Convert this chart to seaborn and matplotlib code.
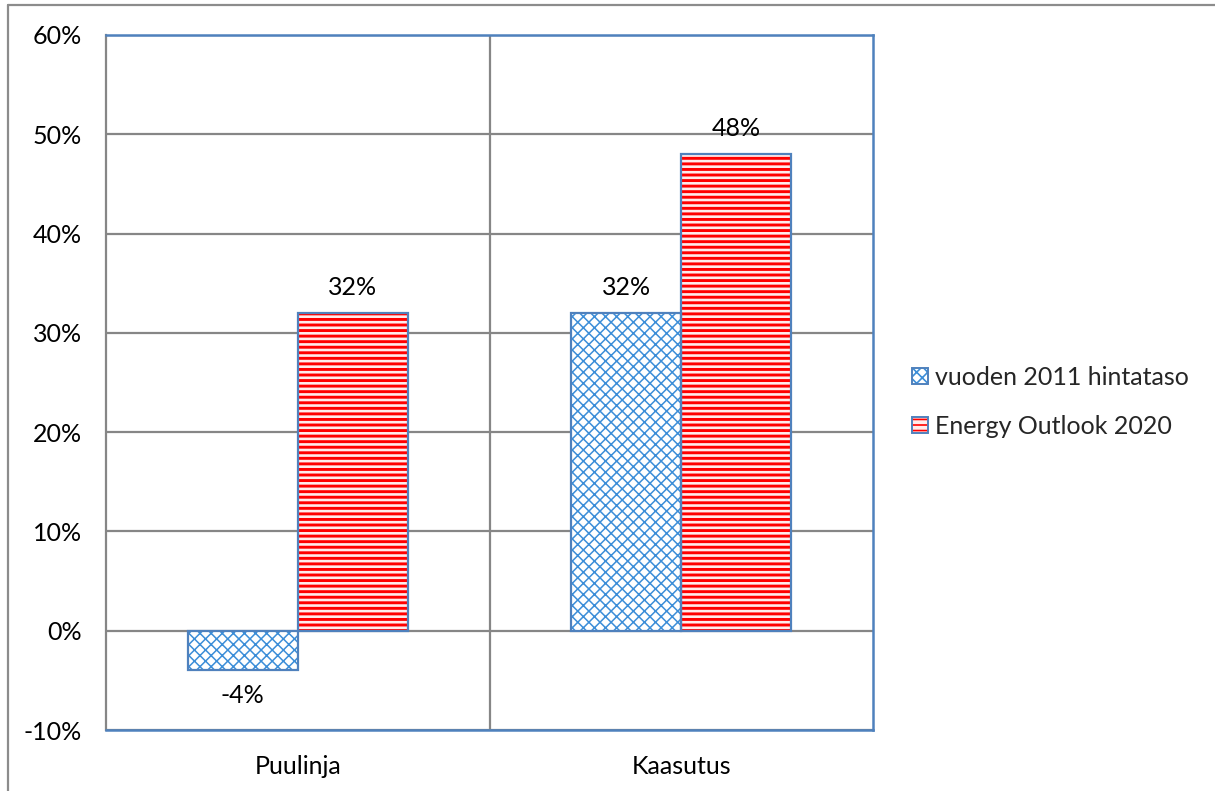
import matplotlib
matplotlib.use("Agg")
import matplotlib.pyplot as plt
from matplotlib.patches import Patch, Rectangle
from matplotlib.lines import Line2D
from matplotlib.legend_handler import HandlerTuple
import pandas as pd
import seaborn as sns

# Data
categories = ["Puulinja", "Kaasutus"]
series_names = ["vuoden 2011 hintataso", "Energy Outlook 2020"]
price_2011 = [-4, 32]
outlook_2020 = [32, 48]
value_labels_2011 = ["-4%", "32%"]
value_labels_2020 = ["32%", "48%"]
ytick_values = [-10, 0, 10, 20, 30, 40, 50, 60]
ytick_labels = ["-10%", "0%", "10%", "20%", "30%", "40%", "50%", "60%"]

df = pd.DataFrame({
    "kategoria": categories * 2,
    "sarja": [series_names[0]] * 2 + [series_names[1]] * 2,
    "arvo": price_2011 + outlook_2020,
})

sns.set_theme(style="white")
plt.rcParams["font.family"] = ["Lato", "DejaVu Sans"]
plt.rcParams["hatch.linewidth"] = 1.2

FS = 18
BLUE_EDGE = "#4F81BD"
BLUE_HATCH = "#3C8ED8"
RED = "#FF0000"
GRID = "#868686"

fig = plt.figure(figsize=(12.15, 7.91), dpi=100)
ax = fig.add_axes([106 / 1215, 1 - 730 / 791, (873 - 106) / 1215, (730 - 35) / 791])

sns.barplot(data=df, x="kategoria", y="arvo", hue="sarja", order=categories,
            hue_order=series_names, width=0.574, ax=ax, legend=False,
            saturation=1, errorbar=None)

styles = {
    series_names[0]: dict(face="white", hatch="xxx", hcolor=BLUE_HATCH, hlw=1.1),
    series_names[1]: dict(face="#FFECEC", hatch="---", hcolor=RED, hlw=2.1),
}


def style_patch(p, st):
    p.set_facecolor(st["face"])
    p.set_hatch(st["hatch"])
    p.set_edgecolor(st["hcolor"])
    p.set_linewidth(0)
    if hasattr(p, "set_hatch_linewidth"):
        p.set_hatch_linewidth(st["hlw"])


for container, name in zip(ax.containers, series_names):
    st = styles[name]
    for bar in container:
        style_patch(bar, st)
        outline = Rectangle(bar.get_xy(), bar.get_width(), bar.get_height(),
                            fill=False, edgecolor=BLUE_EDGE, linewidth=1.6,
                            zorder=bar.get_zorder() + 0.1)
        ax.add_patch(outline)

# Value labels
for container, labels in zip(ax.containers, [value_labels_2011, value_labels_2020]):
    ax.bar_label(container, labels=labels, padding=10, fontsize=FS, color="black")

ax.set_xlim(-0.5, 1.5)
ax.set_ylim(-10, 60)
ax.set_yticks(ytick_values)
ax.set_yticklabels(ytick_labels, fontsize=FS)
ax.set_xticks(range(len(categories)))
ax.set_xticklabels(categories, fontsize=FS)
ax.set_xlabel("")
ax.set_ylabel("")
ax.tick_params(axis="y", direction="out", length=6.5, width=1.5, color=GRID, pad=11, labelcolor="black")
ax.tick_params(axis="x", length=0, pad=18, labelcolor="black")

# Gridlines and category separator
for v in ytick_values:
    ax.axhline(v, color=GRID, linewidth=1.6, zorder=0.5)
ax.axvline(0.5, color=GRID, linewidth=1.6, zorder=0.5)

for side in ["top", "right", "bottom"]:
    ax.spines[side].set_color(BLUE_EDGE)
    ax.spines[side].set_linewidth(1.8)
ax.spines["left"].set_color(GRID)
ax.spines["left"].set_linewidth(1.6)

# Legend: hatched swatch with a blue outline on top
handles = []
for n in series_names:
    st = styles[n]
    swatch = Patch(label=n)
    style_patch(swatch, st)
    frame = Patch(fill=False, edgecolor=BLUE_EDGE, linewidth=1.4)
    handles.append((swatch, frame))
fig.legend(handles=handles, labels=series_names, loc="center left",
           bbox_to_anchor=(912 / 1215, 1 - 402 / 791),
           handler_map={tuple: HandlerTuple(ndivide=1, pad=0)},
           frameon=False, fontsize=FS, handlelength=0.62, handleheight=0.62,
           handletextpad=0.3, labelspacing=1.05, borderaxespad=0, borderpad=0)

# Chart border (top and left edges)
fig.add_artist(Line2D([8 / 1215, 1.05], [1 - 5 / 791, 1 - 5 / 791], transform=fig.transFigure,
                      color="#8C8C8C", linewidth=1.6))
fig.add_artist(Line2D([8 / 1215, 8 / 1215], [-0.05, 1 - 5 / 791], transform=fig.transFigure,
                      color="#8C8C8C", linewidth=1.6))

fig.savefig("out.png", dpi=100, facecolor="white")
